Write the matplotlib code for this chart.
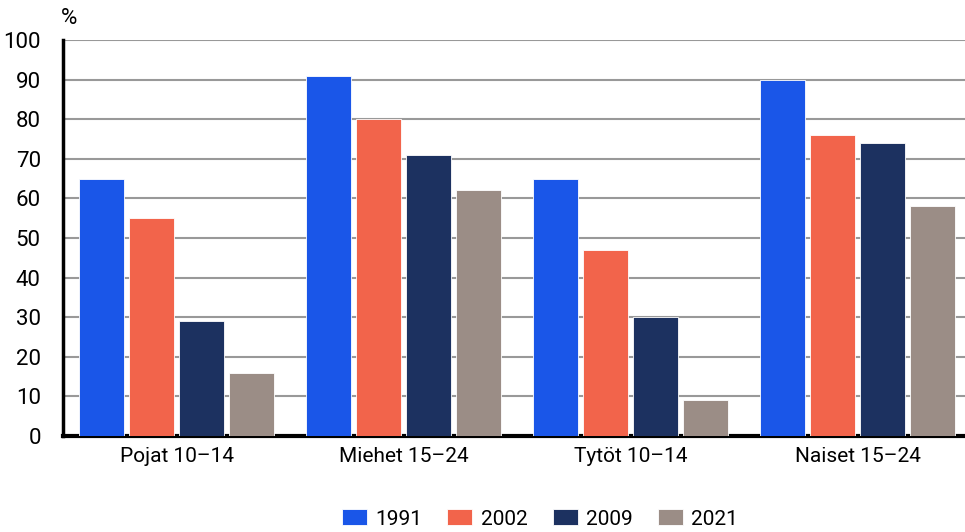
import matplotlib
matplotlib.use("Agg")
import matplotlib.pyplot as plt
import numpy as np

categories = ["Pojat 10–14", "Miehet 15–24", "Tytöt 10–14", "Naiset 15–24"]
series_names = ["1991", "2002", "2009", "2021"]
v1991 = [65, 91, 65, 90]
v2002 = [55, 80, 47, 76]
v2009 = [29, 71, 30, 74]
v2021 = [16, 62, 9, 58]
yticks = [0, 10, 20, 30, 40, 50, 60, 70, 80, 90, 100]
colors = ["#1a56e8", "#f2644b", "#1c3160", "#9b8d86"]

plt.rcParams['font.family'] = ['Roboto', 'DejaVu Sans']

fig = plt.figure(figsize=(9.65, 5.32), dpi=100)
ax = fig.add_axes([63/965, 1-436/532, (971-63)/965, (436-40)/532])

x = np.arange(len(categories))
width = 0.2
step = 0.22
data = [v1991, v2002, v2009, v2021]
for i, (name, vals, c) in enumerate(zip(series_names, data, colors)):
    ax.bar(x + (i - 1.5) * step, vals, width=width, color=c, label=name,
           edgecolor="white", linewidth=0.6, zorder=3)

ax.set_xlim(-0.5, 3.5)
ax.set_ylim(0, 100)
ax.set_yticks(yticks)
ax.set_yticklabels([str(t) for t in yticks], fontsize=16)
ax.set_xticks(x)
ax.set_xticklabels(categories, fontsize=15)
ax.tick_params(axis='y', length=0, pad=16)
ax.tick_params(axis='x', length=0, pad=8)
ax.yaxis.grid(True, color="#999999", linewidth=1.5, zorder=0)
ax.set_axisbelow(True)
for s in ["top", "right"]:
    ax.spines[s].set_visible(False)
ax.spines["left"].set_linewidth(2.5)
ax.spines["bottom"].set_linewidth(3)
ax.spines["left"].set_color("black")
ax.spines["bottom"].set_color("black")

fig.text(61/965, 1-18/532, "%", fontsize=16, ha="left", va="center")

leg = fig.legend(loc="center", bbox_to_anchor=(540/965, 1-519/532), ncol=4,
                 frameon=False, fontsize=15, handlelength=1.2, handleheight=0.8,
                 handletextpad=0.4, columnspacing=1.2)

fig.savefig("out.png", dpi=100)
